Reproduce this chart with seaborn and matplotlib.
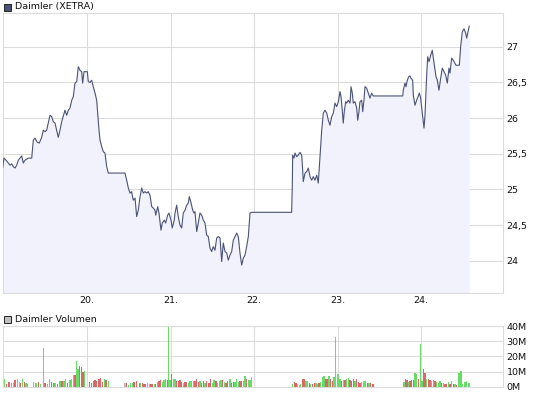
import matplotlib
matplotlib.use("Agg")
import matplotlib.pyplot as plt
import seaborn as sns
import pandas as pd
from matplotlib.ticker import FixedLocator, FuncFormatter
from matplotlib.patches import Rectangle

sns.set_theme(style="white")
plt.rcParams['font.family'] = ['DejaVu Sans']

# ---------------- data ----------------
price_day = [
    18.990, 19.006, 19.045, 19.078, 19.098, 19.117, 19.138, 19.158, 19.177, 19.218,
    19.237, 19.257, 19.297, 19.338, 19.357, 19.377, 19.405, 19.429, 19.457, 19.477,
    19.497, 19.517, 19.557, 19.577, 19.596, 19.617, 19.637, 19.656, 19.677, 19.697,
    19.736, 19.757, 19.776, 19.796, 19.817, 19.836, 19.856, 19.877, 19.896, 19.916,
    19.936, 19.948, 19.964, 20.004, 20.015, 20.036, 20.056, 20.075, 20.096, 20.116,
    20.128, 20.144, 20.156, 20.176, 20.195, 20.215, 20.236, 20.255, 20.455, 20.475,
    20.495, 20.515, 20.535, 20.542, 20.554, 20.575, 20.595, 20.614, 20.635, 20.655,
    20.674, 20.695, 20.715, 20.734, 20.754, 20.775, 20.794, 20.814, 20.823, 20.847,
    20.862, 20.886, 20.902, 20.926, 20.942, 20.966, 20.982, 21.006, 21.021, 21.045,
    21.054, 21.074, 21.093, 21.114, 21.134, 21.153, 21.174, 21.194, 21.213, 21.225,
    21.242, 21.266, 21.281, 21.293, 21.314, 21.333, 21.353, 21.374, 21.393, 21.413,
    21.433, 21.453, 21.473, 21.493, 21.512, 21.533, 21.553, 21.572, 21.593, 21.613,
    21.632, 21.653, 21.673, 21.692, 21.712, 21.733, 21.752, 21.772, 21.793, 21.812,
    21.832, 21.853, 21.872, 21.892, 21.912, 21.932, 21.952, 21.972, 22.451, 22.459,
    22.463, 22.479, 22.491, 22.511, 22.530, 22.551, 22.571, 22.583, 22.590, 22.611,
    22.631, 22.650, 22.671, 22.691, 22.710, 22.730, 22.751, 22.770, 22.790, 22.811,
    22.830, 22.850, 22.871, 22.890, 22.910, 22.930, 22.950, 22.970, 22.990, 23.010,
    23.030, 23.042, 23.057, 23.069, 23.081, 23.098, 23.110, 23.129, 23.150, 23.162,
    23.177, 23.189, 23.209, 23.230, 23.242, 23.257, 23.269, 23.290, 23.302, 23.317,
    23.329, 23.349, 23.369, 23.389, 23.409, 23.429, 23.781, 23.788, 23.808, 23.820,
    23.836, 23.853, 23.868, 23.880, 23.900, 23.908, 23.928, 23.948, 23.980, 23.996,
    24.015, 24.036, 24.048, 24.068, 24.080, 24.096, 24.116, 24.135, 24.156, 24.180,
    24.195, 24.215, 24.236, 24.255, 24.275, 24.296, 24.315, 24.335, 24.347, 24.367,
    24.387, 24.419, 24.459, 24.475, 24.495, 24.515, 24.535, 24.547, 24.559, 24.578,
]
price_eur = [
    25.30, 25.44, 25.39, 25.34, 25.36, 25.32, 25.30, 25.34, 25.41, 25.47,
    25.37, 25.41, 25.44, 25.44, 25.69, 25.72, 25.66, 25.65, 25.73, 25.83,
    25.81, 25.83, 26.04, 26.02, 25.95, 25.93, 25.83, 25.73, 25.83, 25.95,
    26.11, 26.04, 26.11, 26.14, 26.25, 26.30, 26.49, 26.51, 26.72, 26.67,
    26.65, 26.49, 26.65, 26.65, 26.51, 26.50, 26.53, 26.44, 26.35, 26.25,
    26.07, 25.83, 25.69, 25.60, 25.53, 25.51, 25.32, 25.23, 25.23, 25.13,
    25.02, 24.95, 24.97, 24.92, 24.85, 24.88, 24.62, 24.71, 24.90, 25.02,
    24.95, 24.97, 24.95, 24.97, 24.92, 24.76, 24.74, 24.71, 24.64, 24.76,
    24.67, 24.43, 24.53, 24.57, 24.53, 24.64, 24.67, 24.57, 24.46, 24.57,
    24.67, 24.78, 24.62, 24.50, 24.46, 24.67, 24.71, 24.78, 24.81, 24.90,
    24.83, 24.71, 24.67, 24.69, 24.41, 24.53, 24.67, 24.64, 24.57, 24.53,
    24.36, 24.34, 24.18, 24.13, 24.20, 24.15, 24.32, 24.34, 24.32, 23.99,
    24.25, 24.13, 24.11, 24.01, 24.08, 24.13, 24.29, 24.34, 24.39, 24.34,
    24.11, 23.94, 24.04, 24.08, 24.20, 24.34, 24.67, 24.68, 24.68, 25.09,
    25.48, 25.44, 25.51, 25.46, 25.48, 25.52, 25.48, 25.27, 25.11, 25.23,
    25.25, 25.30, 25.18, 25.13, 25.18, 25.13, 25.20, 25.09, 25.44, 25.83,
    26.07, 26.11, 26.07, 25.97, 25.90, 26.02, 26.07, 26.21, 26.16, 26.23,
    26.37, 26.30, 26.11, 25.93, 26.09, 26.23, 26.21, 26.25, 26.21, 26.44,
    26.35, 26.21, 26.23, 26.14, 25.97, 26.09, 26.23, 26.25, 26.09, 26.25,
    26.44, 26.42, 26.35, 26.28, 26.35, 26.31, 26.31, 26.39, 26.49, 26.44,
    26.53, 26.58, 26.59, 26.56, 26.53, 26.32, 26.18, 26.25, 26.35, 26.28,
    26.07, 25.86, 26.04, 26.60, 26.86, 26.79, 26.88, 26.95, 26.77, 26.58,
    26.53, 26.39, 26.56, 26.70, 26.65, 26.60, 26.49, 26.70, 26.63, 26.84,
    26.81, 26.74, 26.74, 27.00, 27.21, 27.25, 27.19, 27.12, 27.19, 27.29,
]

vol_day = [
    19.010, 19.038, 19.066, 19.098, 19.118, 19.138, 19.166, 19.190, 19.205, 19.225,
    19.249, 19.269, 19.285, 19.357, 19.389, 19.417, 19.445, 19.477, 19.497, 19.525,
    19.549, 19.577, 19.597, 19.617, 19.645, 19.677, 19.701, 19.725, 19.744, 19.768,
    19.796, 19.816, 19.836, 19.856, 19.872, 19.892, 19.912, 19.932, 19.952, 19.972,
    20.028, 20.056, 20.076, 20.096, 20.116, 20.144, 20.164, 20.188, 20.208, 20.228,
    20.255, 20.455, 20.475, 20.495, 20.523, 20.543, 20.563, 20.595, 20.627, 20.643,
    20.667, 20.683, 20.703, 20.727, 20.746, 20.766, 20.786, 20.806, 20.822, 20.842,
    20.862, 20.882, 20.902, 20.922, 20.942, 20.962, 20.974, 20.994, 21.010, 21.034,
    21.054, 21.074, 21.094, 21.114, 21.134, 21.154, 21.174, 21.194, 21.214, 21.233,
    21.253, 21.273, 21.293, 21.313, 21.333, 21.353, 21.373, 21.393, 21.413, 21.433,
    21.461, 21.481, 21.501, 21.521, 21.545, 21.565, 21.585, 21.605, 21.625, 21.645,
    21.665, 21.685, 21.713, 21.732, 21.752, 21.772, 21.792, 21.812, 21.832, 21.852,
    21.872, 21.892, 21.912, 21.932, 21.952, 21.972,
    22.463, 22.483, 22.503, 22.519, 22.543, 22.559, 22.579, 22.599, 22.623, 22.643,
    22.663, 22.679, 22.703, 22.722, 22.742, 22.758, 22.778, 22.798, 22.818, 22.838,
    22.862, 22.878, 22.898, 22.918, 22.938, 22.958, 22.974, 23.006, 23.030, 23.050,
    23.070, 23.090, 23.110, 23.130, 23.150, 23.170, 23.190, 23.210, 23.229, 23.249,
    23.269, 23.289, 23.317, 23.337, 23.357, 23.377, 23.397, 23.417, 23.433,
    23.796, 23.812, 23.832, 23.848, 23.868, 23.888, 23.908, 23.928, 23.948, 23.972,
    23.992, 24.012, 24.028, 24.048, 24.068, 24.088, 24.108, 24.128, 24.148, 24.168,
    24.188, 24.208, 24.228, 24.248, 24.267, 24.287, 24.307, 24.327, 24.347, 24.367,
    24.387, 24.407, 24.427, 24.455, 24.479, 24.499, 24.527, 24.547, 24.567, 24.579,
]
vol_mio = [
    5.1, 1.8, 3.1, 2.4, 2.6, 4.4, 5.1, 3.3, 2.4, 5.1,
    3.1, 2.2, 1.8, 2.9, 2.4, 3.1, 1.8, 25.3, 2.2, 2.0,
    5.1, 3.1, 2.2, 2.2, 1.8, 3.5, 3.5, 3.7, 5.1, 2.6,
    4.6, 5.1, 7.7, 7.7, 16.9, 11.4, 13.6, 12.7, 9.9, 10.3,
    3.1, 2.2, 4.0, 4.4, 4.0, 5.1, 5.7, 3.1, 5.1, 4.4,
    3.7, 2.2, 2.2, 1.3, 2.6, 2.4, 3.3, 4.0, 2.6, 2.4,
    2.2, 2.0, 2.0, 2.2, 2.0, 1.8, 2.0, 2.0, 2.0, 3.3,
    3.7, 4.4, 3.3, 4.4, 4.8, 4.4, 39.1, 4.4, 8.1, 5.1,
    5.1, 3.7, 3.7, 4.4, 3.3, 2.6, 3.1, 2.9, 2.6, 4.0,
    4.0, 4.0, 3.7, 4.8, 3.1, 4.0, 2.6, 3.7, 2.6, 3.7,
    2.4, 5.3, 2.6, 4.2, 3.7, 2.6, 3.5, 4.4, 4.4, 3.1,
    2.6, 3.5, 5.1, 2.4, 3.3, 2.9, 4.8, 3.3, 3.7, 3.7,
    3.7, 7.0, 5.3, 4.4, 4.4, 6.4,
    1.8, 3.3, 2.2, 1.8, 1.3, 1.8, 5.1, 4.8, 4.0, 3.7,
    2.6, 2.0, 1.8, 2.2, 2.4, 2.0, 2.4, 3.1, 6.2, 6.8,
    5.1, 5.1, 6.8, 5.1, 4.0, 6.6, 32.5, 8.4, 5.1, 4.0,
    4.4, 4.6, 4.8, 5.9, 4.6, 4.0, 5.1, 3.7, 5.1, 3.1,
    2.6, 2.9, 4.0, 4.0, 2.6, 2.2, 2.2, 1.8, 1.8,
    3.3, 5.1, 4.4, 3.3, 3.5, 4.4, 4.6, 9.0, 8.6, 5.3,
    28.1, 3.7, 11.6, 9.2, 5.1, 5.1, 4.6, 4.0, 4.4, 3.7,
    2.9, 2.4, 3.7, 2.6, 2.2, 1.8, 1.8, 3.1, 1.8, 3.7,
    1.8, 1.8, 1.1, 9.0, 10.3, 1.8, 3.3, 3.7, 2.6, 2.6,
]
# u = up (green), d = down (red), n = unchanged (grey); one letter per bar
vol_dir_rows = [
    "udduuduudu", "duuuuduudu", "uddududuud", "uuuduudddu", "ddddddddud",
    "unduuudddu", "ddduuddudu", "dduuuduudu", "uddddudduu", "uuddduddud",
    "dduuduuudu", "ddudduuudd", "uuduuu",
    "udduuudduu", "dudduuduuu", "ddudduuuud", "uduudddudd", "duuududdd",
    "udduddduud", "uuddudduud", "uuududdudu", "duduuuuuuu",
]
vol_dir = list("".join(vol_dir_rows))

day_ticks = [20, 21, 22, 23, 24]
day_labels = ["20.", "21.", "22.", "23.", "24."]
price_ticks = [24, 24.5, 25, 25.5, 26, 26.5, 27]
vol_ticks = [0, 10, 20, 30, 40]

# ---------------- styling ----------------
W, H = 545, 395
line_col = "#4a5276"
fill_col = "#f2f2fc"
grid_col = "#dcdcdc"
cmap = {"u": "#66dd66", "d": "#dd6666", "n": "#bbbbbb"}
fs = 6.8

fig = plt.figure(figsize=(W / 100, H / 100), dpi=100)
fig.patch.set_facecolor("white")

ax = fig.add_axes([3 / W, 1 - 293 / H, 500 / W, 280 / H])
axv = fig.add_axes([3 / W, 1 - 386.7 / H, 500 / W, 60.7 / H])

x0, x1 = 18.994, 24.982
y0, y1 = 23.55, 27.472

df = pd.DataFrame({"day": price_day, "eur": price_eur})
ax.fill_between(df["day"], df["eur"], y0, color=fill_col, linewidth=0, zorder=1)
sns.lineplot(data=df, x="day", y="eur", ax=ax, color=line_col, linewidth=0.8,
             sort=False, estimator=None, zorder=3)

for a in (ax, axv):
    a.set_facecolor("white")
    a.set_xlim(x0, x1)
    a.xaxis.set_major_locator(FixedLocator(day_ticks))
    a.grid(True, color=grid_col, linewidth=0.8, zorder=0)
    a.set_axisbelow(True)
    for s in a.spines.values():
        s.set_color(grid_col)
        s.set_linewidth(0.8)
    a.yaxis.tick_right()
    a.tick_params(length=0, labelsize=fs, colors="#111111", pad=2.5)
    a.set_xlabel("")
    a.set_ylabel("")

ax.set_ylim(y0, y1)
ax.yaxis.set_major_locator(FixedLocator(price_ticks))
ax.yaxis.set_major_formatter(FuncFormatter(lambda v, p: (f"{v:g}").replace(".", ",")))
ax.set_xticklabels(day_labels)

vdf = pd.DataFrame({"day": vol_day, "mio": vol_mio, "dir": vol_dir})
axv.bar(vdf["day"], vdf["mio"], width=0.016, color=[cmap[c] for c in vdf["dir"]],
        linewidth=0, zorder=3)
axv.set_ylim(0, 40)
axv.yaxis.set_major_locator(FixedLocator(vol_ticks))
axv.yaxis.set_major_formatter(FuncFormatter(lambda v, p: f"{int(v)}M"))
axv.set_xticklabels([])

# legend-like headers
fig.add_artist(Rectangle((3.5 / W, 1 - 10.5 / H), 7 / W, 7 / H, transform=fig.transFigure,
                         facecolor=line_col, edgecolor="#222222", linewidth=0.7))
fig.text(15 / W, 1 - 6.5 / H, "Daimler (XETRA)", va="center", ha="left",
         fontsize=fs, color="#111111")
fig.add_artist(Rectangle((3.5 / W, 1 - 323 / H), 7 / W, 7 / H, transform=fig.transFigure,
                         facecolor="#c0c0c0", edgecolor="#222222", linewidth=0.7))
fig.text(15 / W, 1 - 319 / H, "Daimler Volumen", va="center", ha="left",
         fontsize=fs, color="#111111")

fig.savefig("out.png", dpi=100, facecolor="white")
